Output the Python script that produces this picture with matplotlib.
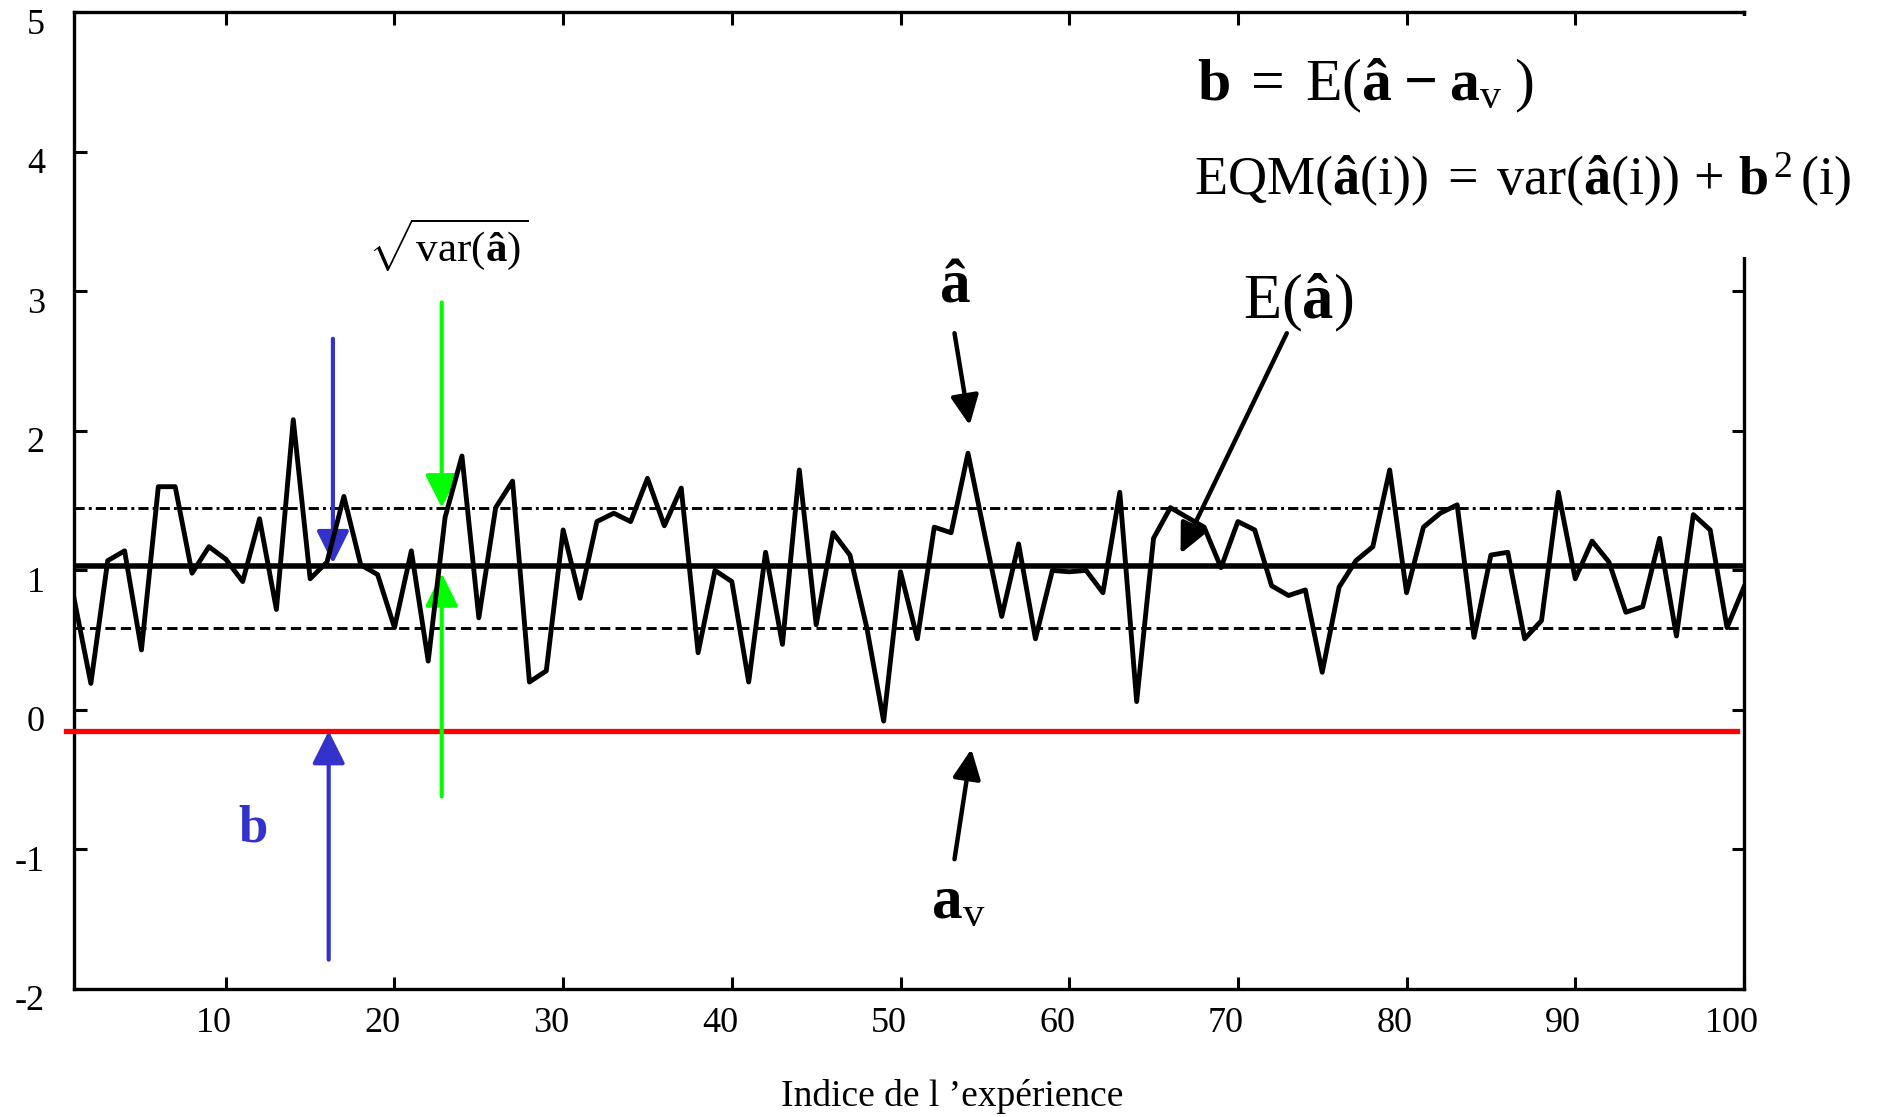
import matplotlib
matplotlib.use("Agg")
import matplotlib.pyplot as plt
from matplotlib.patches import Rectangle
from matplotlib.transforms import ScaledTranslation

plt.rcParams['font.family'] = ['Liberation Serif', 'DejaVu Serif']
plt.rcParams['mathtext.fontset'] = 'custom'
plt.rcParams['mathtext.rm'] = 'Liberation Serif'
plt.rcParams['mathtext.bf'] = 'Liberation Serif:bold'
plt.rcParams['mathtext.it'] = 'Liberation Serif:italic'
plt.rcParams['axes.unicode_minus'] = False

# estimates a_hat(i), i = 1..100
indices = list(range(1, 101))
a_hat = [0.80, 0.19, 1.07, 1.14, 0.43, 1.60, 1.60, 0.98, 1.17, 1.08,
         0.92, 1.37, 0.72, 2.08, 0.94, 1.06, 1.53, 1.04, 0.97, 0.59,
         1.14, 0.35, 1.38, 1.82, 0.66, 1.45, 1.64, 0.20, 0.28, 1.29,
         0.80, 1.35, 1.41, 1.35, 1.66, 1.32, 1.59, 0.41, 1.00, 0.92,
         0.20, 1.13, 0.47, 1.72, 0.61, 1.27, 1.11, 0.59, -0.08, 0.99,
         0.51, 1.31, 1.27, 1.84, 1.25, 0.67, 1.19, 0.51, 1.00, 0.99,
         1.00, 0.84, 1.56, 0.06, 1.23, 1.45, 1.38, 1.31, 1.02, 1.35,
         1.29, 0.89, 0.82, 0.86, 0.27, 0.88, 1.07, 1.17, 1.72, 0.84,
         1.31, 1.41, 1.47, 0.52, 1.11, 1.13, 0.51, 0.64, 1.56, 0.94,
         1.21, 1.06, 0.70, 0.74, 1.23, 0.53, 1.40, 1.29, 0.59, 0.88]
mean_a = 1.03
upper_a = 1.45
lower_a = 0.59
a_true = -0.15
x_ticks = [10, 20, 30, 40, 50, 60, 70, 80, 90, 100]
y_ticks = [-2, -1, 0, 1, 2, 3, 4, 5]

fig = plt.figure(figsize=(18.78, 11.17), dpi=100)
ax = fig.add_axes([0.0394, 0.1146, 0.8892, 0.8744])

ax.plot(indices, a_hat, color='black', lw=3.5, zorder=4)
ax.axhline(mean_a, color='black', lw=4.0, zorder=3)
ax.axhline(upper_a, color='black', lw=2.1, linestyle=(0, (3.5, 1.4, 1.0, 1.4)), zorder=3)
ax.axhline(lower_a, color='black', lw=2.1, linestyle=(0, (3.5, 1.8)), zorder=3)
ax.plot([0.5, 99.6], [a_true, a_true], color='#ff0000', lw=3.8, clip_on=False, zorder=3)

ax.set_xlim(1, 100)
ax.set_ylim(-2, 5)
ax.set_xticks(x_ticks)
ax.set_yticks(y_ticks)
ax.tick_params(direction='in', length=9, width=2.2, labelsize=26,
               top=True, right=True)
ax.tick_params(axis='x', pad=13)
ax.tick_params(axis='y', pad=18)
for s in ax.spines.values():
    s.set_linewidth(2.4)

# labels sit a little off their ticks in the original
for lab in ax.get_xticklabels():
    lab.set_transform(lab.get_transform() + ScaledTranslation(-0.12, 0, fig.dpi_scale_trans))
for lab in ax.get_yticklabels():
    lab.set_transform(lab.get_transform() + ScaledTranslation(-0.04, -0.09, fig.dpi_scale_trans))

ax.set_xlabel("Indice de l \u2019expérience", fontsize=27)
ax.xaxis.set_label_coords(0.526, -0.092)

# gap in the right frame behind the formulas
ax.add_patch(Rectangle((0.985, 0.749), 0.03, 0.247, transform=ax.transAxes,
                       facecolor='white', edgecolor='none', zorder=5, clip_on=False))

blue = '#3333cc'
green = '#00ff00'
head_b = '-|>,head_length=2.0,head_width=1.0'
ax.annotate('', xy=(16.35, 1.05), xytext=(16.35, 2.66),
            arrowprops=dict(arrowstyle=head_b, mutation_scale=10, color=blue, lw=3.0,
                            shrinkA=0, shrinkB=0))
ax.annotate('', xy=(16.1, a_true), xytext=(16.1, -1.79),
            arrowprops=dict(arrowstyle=head_b, mutation_scale=10, color=blue, lw=3.0,
                            shrinkA=0, shrinkB=0))
ax.annotate('', xy=(22.8, upper_a), xytext=(22.8, 2.92),
            arrowprops=dict(arrowstyle=head_b, mutation_scale=10, color=green, lw=3.0,
                            shrinkA=0, shrinkB=0))
ax.annotate('', xy=(22.8, 0.98), xytext=(22.8, -0.62),
            arrowprops=dict(arrowstyle=head_b, mutation_scale=10, color=green, lw=3.0,
                            shrinkA=0, shrinkB=0))

head_k = '-|>,head_length=1.8,head_width=0.85'
ax.annotate('', xy=(54.1, 2.04), xytext=(53.2, 2.70),
            arrowprops=dict(arrowstyle=head_k, mutation_scale=10, color='black', lw=3.2,
                            shrinkA=0, shrinkB=0))
ax.annotate('', xy=(66.6, 1.12), xytext=(72.9, 2.70),
            arrowprops=dict(arrowstyle=head_k, mutation_scale=10, color='black', lw=3.2,
                            shrinkA=0, shrinkB=0))
ax.annotate('', xy=(54.2, -0.28), xytext=(53.2, -1.07),
            arrowprops=dict(arrowstyle=head_k, mutation_scale=10, color='black', lw=3.2,
                            shrinkA=0, shrinkB=0))

ax.text(53.2, 3.03, r'$\mathbf{â}$', fontsize=44, ha='center', va='center')
ax.text(73.6, 2.92, r'$\mathrm{E}(\mathbf{â})$', fontsize=45, ha='center', va='center')
ax.text(53.4, -1.38, r'$\mathbf{a}_{\mathrm{v}}$', fontsize=44, ha='center', va='center')
ax.text(11.6, -0.85, r'$\mathbf{b}$', fontsize=38, color=blue, ha='center', va='center')
ax.text(23.2, 3.33, r'$\sqrt{\mathrm{var}(\mathbf{â})}$', fontsize=31, ha='center', va='center')

ax.text(67.6, 4.47, r'$\mathbf{b}\;=\;\mathrm{E}(\mathbf{â}\;\mathbf{-}\;\mathbf{a}_{\mathrm{v}}\;)$',
        fontsize=43, ha='left', va='center', zorder=6)
ax.text(67.4, 3.80,
        r'$\mathrm{EQM}(\mathbf{â}(\mathrm{i}))\;=\;\mathrm{var}(\mathbf{â}(\mathrm{i}))\,+\,\mathbf{b}^{\,2}\,(\mathrm{i})$',
        fontsize=39, ha='left', va='center', zorder=6)

fig.savefig('out.png', dpi=100)
